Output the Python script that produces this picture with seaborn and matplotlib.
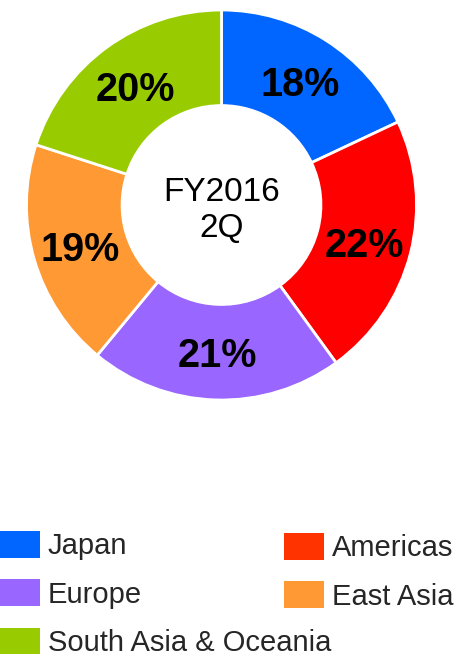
import matplotlib
matplotlib.use("Agg")
import matplotlib.pyplot as plt
from matplotlib.patches import Patch
import numpy as np
import seaborn as sns

regions = ["Japan", "Americas", "Europe", "East Asia", "South Asia & Oceania"]
shares = [18, 22, 21, 19, 20]
labels = ["18%", "22%", "21%", "19%", "20%"]
pie_colors = ["#0066FF", "#FF0000", "#9966FF", "#FF9933", "#99CC00"]
legend_colors = ["#0066FF", "#FF3300", "#9966FF", "#FF9933", "#99CC00"]
center_text = "FY2016\n2Q"

sns.set_theme(style="white")
plt.rcParams["font.family"] = ["Liberation Sans", "DejaVu Sans"]

W, H = 477, 657
fig = plt.figure(figsize=(W / 100, H / 100), dpi=100)
fig.patch.set_facecolor("white")

cx, cy, R = 221.5, 205, 195
ax = fig.add_axes([(cx - R) / W, 1 - (cy + R) / H, 2 * R / W, 2 * R / H])
pal = sns.color_palette(pie_colors)
wedges, _ = ax.pie(shares, colors=pal, startangle=90, counterclock=False,
                   radius=1.0,
                   wedgeprops=dict(width=0.49, edgecolor="white", linewidth=2))
for w, lab in zip(wedges, labels):
    ang = np.deg2rad((w.theta1 + w.theta2) / 2)
    r = 1 - 0.49 / 2
    ax.text(r * np.cos(ang), r * np.sin(ang) - 0.022, lab, ha="center", va="center",
            fontsize=28.5, fontweight="bold", color="black")
ax.text(0, -0.03, center_text, ha="center", va="center", fontsize=24,
        linespacing=1.22, color="black")
ax.set_xlim(-1, 1)
ax.set_ylim(-1, 1)
ax.set_aspect("equal")
ax.axis("off")

handles = [Patch(facecolor=c, edgecolor="none", label=r)
           for r, c in zip(regions, legend_colors)]
common = dict(frameon=False, fontsize=21, handlelength=1.37, handleheight=1.03,
              handletextpad=0.27, labelspacing=0.65, borderpad=0, borderaxespad=0)
leg1 = fig.legend(handles=[handles[0], handles[2], handles[4]],
                  loc="upper left", bbox_to_anchor=(0 / W, 1 - 531 / H), **common)
leg2 = fig.legend(handles=[handles[1], handles[3]],
                  loc="upper left", bbox_to_anchor=(284 / W, 1 - 533 / H), **common)

fig.savefig("out.png", dpi=100, facecolor="white")
